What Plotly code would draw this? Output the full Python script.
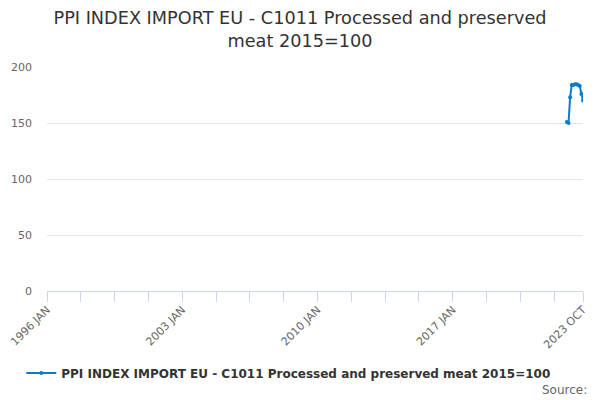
import plotly.graph_objects as go

MONTHS = ["JAN", "FEB", "MAR", "APR", "MAY", "JUN", "JUL", "AUG", "SEP", "OCT", "NOV", "DEC"]
categories = [f"{y} {m}" for y in range(1996, 2024) for m in MONTHS][: 27 * 12 + 10]  # 1996 JAN .. 2023 OCT

series_name = "PPI INDEX IMPORT EU - C1011 Processed and preserved meat 2015=100"
data_months = ["2022 DEC", "2023 JAN", "2023 FEB", "2023 MAR", "2023 APR", "2023 MAY",
               "2023 JUN", "2023 JUL", "2023 AUG", "2023 SEP", "2023 OCT"]
data_values = [151, 150, 173, 184, 184, 184.5, 184.5, 184, 183, 176, 170]

tick_labels = {"1996 JAN": "1996 JAN", "2003 JAN": "2003 JAN", "2010 JAN": "2010 JAN",
               "2017 JAN": "2017 JAN", "2023 OCT": "2023 OCT"}

tickvals = categories[::21] + [categories[-1]]
ticktext = [tick_labels.get(c, "") for c in tickvals]

FONT = "DejaVu Sans"
fig = go.Figure()
fig.add_trace(go.Scatter(
    x=data_months, y=data_values, mode="lines+markers", name=series_name,
    line=dict(color="#0a7bcd", width=2),
    marker=dict(color="#0a7bcd", size=4),
))

fig.update_layout(
    width=600, height=400,
    margin=dict(l=47, r=17, t=67, b=109, autoexpand=False),
    paper_bgcolor="white", plot_bgcolor="white",
    font=dict(family=FONT, color="#666666", size=11),
    title=dict(text="PPI INDEX IMPORT EU - C1011 Processed and preserved<br>meat 2015=100",
               x=0.5, xanchor="center", y=0.94, yanchor="top",
               font=dict(family=FONT, size=17.7, color="#333333")),
    showlegend=True,
    legend=dict(orientation="h", x=-0.048, xanchor="left", y=-0.366, yanchor="middle",
                font=dict(family=FONT, size=12, color="#333333", weight="bold"),
                itemwidth=30),
    xaxis=dict(type="category", categoryorder="array", categoryarray=categories,
               range=[0, len(categories) - 1], automargin=False,
               tickmode="array", tickvals=tickvals, ticktext=ticktext, tickangle=-45,
               ticks="outside", ticklen=10, tickcolor="#ccd6eb", tickwidth=1,
               ticklabelstandoff=-3,
               showline=True, linecolor="#ccd6eb", linewidth=1,
               showgrid=False, zeroline=False,
               tickfont=dict(size=11, color="#666666")),
    yaxis=dict(range=[0, 200], tickvals=[0, 50, 100, 150, 200], automargin=False,
               showgrid=True, gridcolor="#e6e6e6", zeroline=False, showline=False,
               ticklabelstandoff=14,
               tickfont=dict(size=11, color="#666666")),
    annotations=[dict(text="Source:", xref="paper", yref="paper", x=1, y=0,
                      xanchor="right", yanchor="middle", xshift=6, yshift=-99,
                      showarrow=False, font=dict(family=FONT, size=12, color="#666666"))],
)

fig.write_html("out.html", config={"displayModeBar": False},
               post_script="document.body.style.margin='0';")
